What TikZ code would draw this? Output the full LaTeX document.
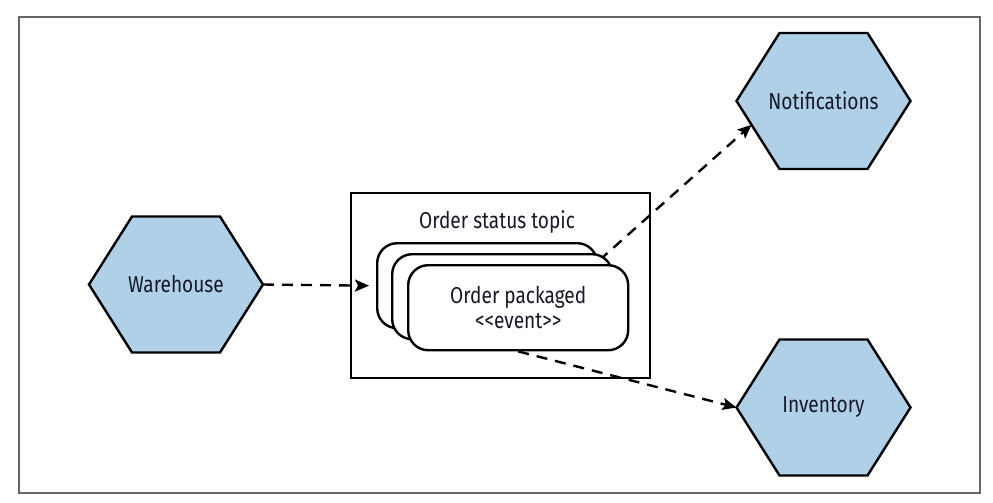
\documentclass[tikz,border=0pt]{standalone}
\usepackage{fontspec}
\setmainfont[FakeStretch=0.83,Ligatures=TeXOff]{Fira Sans}
\usetikzlibrary{arrows.meta,calc,positioning}
\definecolor{hexblue}{RGB}{176,208,232}
\definecolor{inkdark}{RGB}{22,24,40}

% hexagon: name, x, y, label
\newcommand{\hexnode}[4]{%
  \filldraw[hexa] (#2-87,#3) -- (#2-44,#3-68) -- (#2+44,#3-68) -- (#2+87,#3)
    -- (#2+44,#3+68) -- (#2-44,#3+68) -- cycle;
  \node[hexlabel] (#1) at (#2,#3) {#4};
  \coordinate (#1-w) at (#2-87,#3);
  \coordinate (#1-e) at (#2+87,#3);
  \coordinate (#1-sw) at (#2-44,#3+68);
}

\begin{document}
\begin{tikzpicture}[x=1pt,y=-1pt,line width=2.4pt,
    hexa/.style={fill=hexblue,draw=black,line join=miter},
    hexlabel/.style={text=inkdark,font=\fontsize{23}{25}\selectfont},
    card/.style={draw,fill=white,rounded corners=20pt,minimum width=220pt,
      minimum height=85pt,anchor=north west,inner sep=0pt},
    flow/.style={-{Stealth[length=14pt,width=12pt,inset=3pt]},dash pattern=on 11pt off 8pt}]
  \useasboundingbox (0,0) rectangle (993,503);
  \draw[black!60,line width=2pt] (19,17) rectangle (980,493);
  % services
  \hexnode{wh}{176}{284.5}{Warehouse}
  \hexnode{nt}{823.5}{101}{Notifications}
  \hexnode{inv}{823.5}{407.5}{Inventory}
  % topic
  \node[draw,line width=2pt,minimum width=299pt,minimum height=185pt,
    anchor=north west,inner sep=0pt] (topic) at (350,192) {};
  \node[hexlabel] (topiclabel) at (497,222) {Order status topic};
  \coordinate (src) at (585,273);
  \draw[flow] (src) -- ($(nt-w)!0.35!(nt-sw)$);
  % events
  \node[card] (back) at (376,242) {};
  \node[card] (mid) at (391,253) {};
  \node[card,align=center,text=inkdark,font=\fontsize{23}{25}\selectfont]
    (front) at (407,264) {Order packaged\\<<event>>};
  \draw[flow] (wh-e) -- ($(back.west)+(-7,0)$);
  \draw[flow] (front.south) -- (inv-w);
\end{tikzpicture}
\end{document}
